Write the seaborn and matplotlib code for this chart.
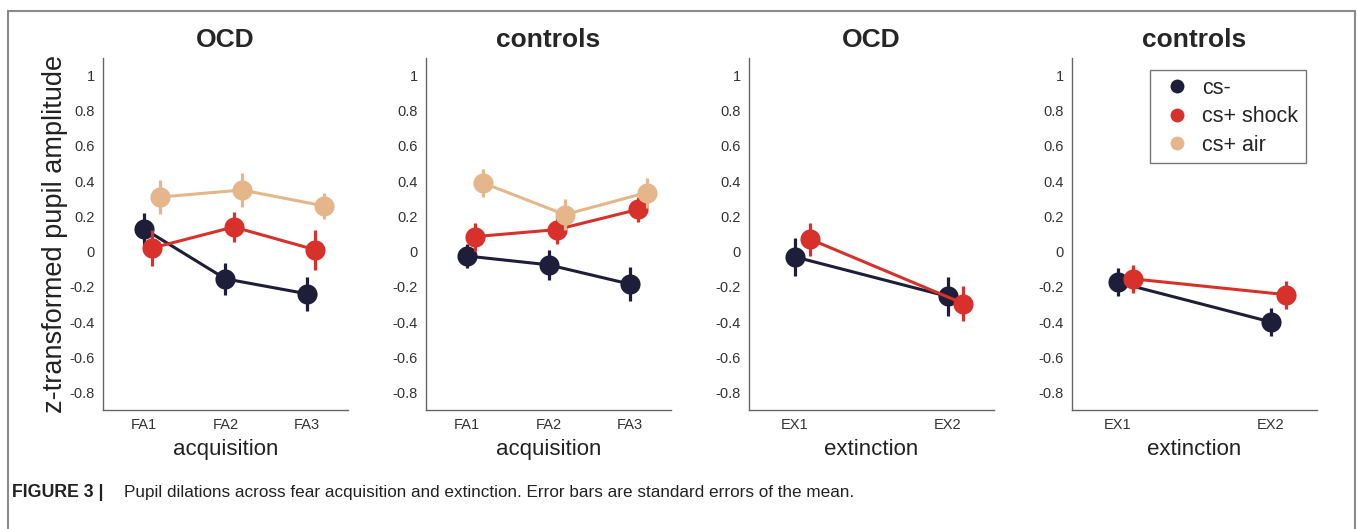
import numpy as np
import matplotlib
matplotlib.use("Agg")
import matplotlib.pyplot as plt
from matplotlib.lines import Line2D
import seaborn as sns

# values (mean and SE)
acq_labels = ["FA1", "FA2", "FA3"]
ext_labels = ["EX1", "EX2"]

ocd_acq_csminus = [0.13, -0.155, -0.24]
ocd_acq_csminus_se = [0.09, 0.09, 0.095]
ocd_acq_shock = [0.02, 0.14, 0.01]
ocd_acq_shock_se = [0.10, 0.085, 0.115]
ocd_acq_air = [0.31, 0.35, 0.26]
ocd_acq_air_se = [0.095, 0.095, 0.075]

ctl_acq_csminus = [-0.025, -0.075, -0.185]
ctl_acq_csminus_se = [0.07, 0.085, 0.095]
ctl_acq_shock = [0.085, 0.125, 0.24]
ctl_acq_shock_se = [0.08, 0.08, 0.07]
ctl_acq_air = [0.39, 0.21, 0.335]
ctl_acq_air_se = [0.08, 0.09, 0.085]

ocd_ext_csminus = [-0.03, -0.255]
ocd_ext_csminus_se = [0.11, 0.11]
ocd_ext_shock = [0.07, -0.295]
ocd_ext_shock_se = [0.095, 0.10]

ctl_ext_csminus = [-0.175, -0.40]
ctl_ext_csminus_se = [0.08, 0.08]
ctl_ext_shock = [-0.155, -0.245]
ctl_ext_shock_se = [0.08, 0.08]

series_names = ["cs-", "cs+ shock", "cs+ air"]
colors = ["#1e1e3a", "#d8312b", "#e6b68b"]
offsets = [0.0, 0.1, 0.2]

sns.set_style("white")
plt.rcParams["font.family"] = ["Liberation Sans", "DejaVu Sans"]

W, H = 1357, 529
fig = plt.figure(figsize=(W / 100, H / 100), dpi=100)

panels = [
    ("OCD", "acquisition", acq_labels,
     [(ocd_acq_csminus, ocd_acq_csminus_se), (ocd_acq_shock, ocd_acq_shock_se), (ocd_acq_air, ocd_acq_air_se)], 103),
    ("controls", "acquisition", acq_labels,
     [(ctl_acq_csminus, ctl_acq_csminus_se), (ctl_acq_shock, ctl_acq_shock_se), (ctl_acq_air, ctl_acq_air_se)], 426),
    ("OCD", "extinction", ext_labels,
     [(ocd_ext_csminus, ocd_ext_csminus_se), (ocd_ext_shock, ocd_ext_shock_se)], 749),
    ("controls", "extinction", ext_labels,
     [(ctl_ext_csminus, ctl_ext_csminus_se), (ctl_ext_shock, ctl_ext_shock_se)], 1072),
]

axes = []
for title, xlab, labels, series, left in panels:
    ax = fig.add_axes([left / W, (H - 410) / H, 245 / W, 352 / H])
    axes.append(ax)
    n = len(labels)
    for i, (vals, se) in enumerate(series):
        x = np.arange(n) + offsets[i]
        ax.errorbar(x, vals, yerr=se, fmt="none", ecolor=colors[i], elinewidth=2.3,
                    capsize=0, zorder=2 + i)
        sns.lineplot(x=x, y=vals, color=colors[i], marker="o", markersize=14.5,
                     markeredgewidth=0, linewidth=2.2, ax=ax, zorder=2 + i)
    if n == 3:
        ax.set_xlim(-0.5, 2.5)
    else:
        ax.set_xlim(-0.3, 1.3)
    ax.set_ylim(-0.9, 1.1)
    ax.set_xticks(np.arange(n))
    ax.set_xticklabels(labels)
    yt = np.round(np.arange(-0.8, 1.01, 0.2), 1)
    ax.set_yticks(yt)
    ax.set_yticklabels(["0" if v == 0 else ("1" if v == 1 else f"{v:g}") for v in yt])
    ax.tick_params(direction="in", length=4, width=1, color="#666666",
                   labelsize=10.5, labelcolor="#333333", pad=6)
    sns.despine(ax=ax)
    for s in ["left", "bottom"]:
        ax.spines[s].set_color("#666666")
        ax.spines[s].set_linewidth(1.0)
    ax.set_title(title, fontsize=19, fontweight="bold", pad=8)
    ax.set_xlabel(xlab, fontsize=16, color="#222222", labelpad=5)

axes[0].set_ylabel("z-transformed pupil amplitude", fontsize=19.5, color="#222222", labelpad=1)

handles = [Line2D([], [], linestyle="none", marker="o", markersize=10, markeredgewidth=0,
                  color=c) for c in colors]
leg = axes[3].legend(handles, series_names, loc="upper right", bbox_to_anchor=(0.955, 0.966),
                     borderaxespad=0, fontsize=15.5, frameon=True, fancybox=False,
                     handletextpad=0.3, borderpad=0.35, labelspacing=0.35, handlelength=1.8)
leg.get_frame().set_edgecolor("#555555")
leg.get_frame().set_linewidth(1.0)

# outer frame
fc = "#8a8a8a"
fig.add_artist(Line2D([7.5 / W, 7.5 / W], [0, 1 - 11 / H], color=fc, lw=1.5))
fig.add_artist(Line2D([7.5 / W, 1354.5 / W], [1 - 11 / H, 1 - 11 / H], color=fc, lw=1.5))
fig.add_artist(Line2D([1354.5 / W, 1354.5 / W], [0, 1 - 11 / H], color=fc, lw=1.5))

# caption
fig.text(12 / W, 1 - 497 / H, "FIGURE 3 |", fontsize=12.8, fontweight="bold",
         va="baseline", ha="left", color="#222222")
fig.text(124 / W, 1 - 497 / H,
         "Pupil dilations across fear acquisition and extinction. Error bars are standard errors of the mean.",
         fontsize=12.35, va="baseline", ha="left", color="#222222")

fig.savefig("out.png", dpi=100)
